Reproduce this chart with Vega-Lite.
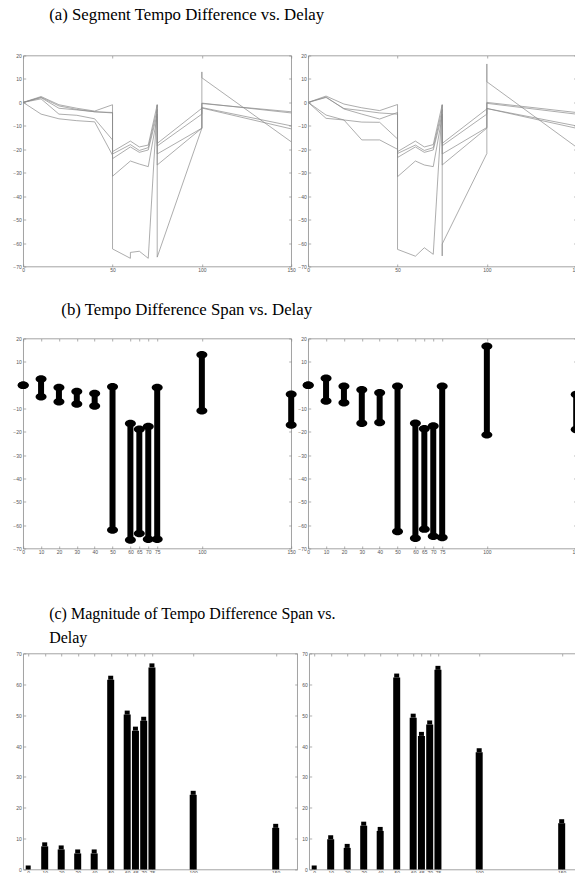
{
  "$schema": "https://vega.github.io/schema/vega-lite/v6.json",
  "padding": {"left": 12.2, "top": 6.5, "right": 0, "bottom": 0},
  "spacing": 50,
  "config": {
    "view": {"stroke": "#8c8c8c", "strokeWidth": 0.8},
    "axis": {"domain": false, "grid": false, "tickSize": -2.5, "tickColor": "#8c8c8c", "tickWidth": 0.7, "labelFont": "Liberation Sans", "labelFontSize": 5, "labelColor": "#555555", "labelOverlap": false, "labelFlush": false, "labelBound": false},
    "axisX": {"labelPadding": 3.5},
    "axisY": {"labelPadding": 4.5},
    "title": {"font": "Liberation Serif", "fontSize": 16.8, "fontWeight": "normal", "color": "#000000", "frame": "group"}
  },
  "datasets": {
    "aL": [
      {"s":1,"i":0,"x":0,"y":0},{"s":1,"i":1,"x":10,"y":2.5},{"s":1,"i":2,"x":20,"y":-1},{"s":1,"i":3,"x":30,"y":-2.5},{"s":1,"i":4,"x":40,"y":-3.7},{"s":1,"i":5,"x":50,"y":-1},{"s":1,"i":6,"x":50,"y":-21},{"s":1,"i":7,"x":60,"y":-16.5},{"s":1,"i":9,"x":65,"y":-19},{"s":1,"i":10,"x":70,"y":-18.2},{"s":1,"i":11,"x":75,"y":-1},{"s":1,"i":12,"x":75,"y":-17.5},{"s":1,"i":14,"x":100,"y":-2.5},{"s":1,"i":16,"x":100,"y":-0.5},{"s":1,"i":17,"x":150,"y":-4},
      {"s":2,"i":0,"x":0,"y":0},{"s":2,"i":1,"x":10,"y":2},{"s":2,"i":2,"x":20,"y":-2.5},{"s":2,"i":3,"x":30,"y":-3.2},{"s":2,"i":4,"x":40,"y":-4},{"s":2,"i":5,"x":50,"y":-4.3},{"s":2,"i":6,"x":50,"y":-22},{"s":2,"i":7,"x":60,"y":-18},{"s":2,"i":9,"x":65,"y":-20.5},{"s":2,"i":10,"x":70,"y":-19.3},{"s":2,"i":11,"x":75,"y":-3},{"s":2,"i":12,"x":75,"y":-18.6},{"s":2,"i":14,"x":100,"y":-5},{"s":2,"i":16,"x":100,"y":-0.3},{"s":2,"i":17,"x":150,"y":-4.5},
      {"s":3,"i":0,"x":0,"y":0},{"s":3,"i":1,"x":10,"y":1.5},{"s":3,"i":2,"x":20,"y":-5},{"s":3,"i":3,"x":30,"y":-5.5},{"s":3,"i":4,"x":40,"y":-7},{"s":3,"i":5,"x":50,"y":-16},{"s":3,"i":6,"x":50,"y":-24},{"s":3,"i":7,"x":60,"y":-19},{"s":3,"i":9,"x":65,"y":-21.3},{"s":3,"i":10,"x":70,"y":-20.3},{"s":3,"i":11,"x":75,"y":-5},{"s":3,"i":12,"x":75,"y":-22},{"s":3,"i":14,"x":100,"y":-11},{"s":3,"i":16,"x":100,"y":-2.2},{"s":3,"i":17,"x":150,"y":-10},
      {"s":4,"i":0,"x":0,"y":0},{"s":4,"i":1,"x":10,"y":-5},{"s":4,"i":2,"x":20,"y":-7},{"s":4,"i":3,"x":30,"y":-7.8},{"s":4,"i":4,"x":40,"y":-8.3},{"s":4,"i":5,"x":50,"y":-22.5},{"s":4,"i":6,"x":50,"y":-31.5},{"s":4,"i":7,"x":60,"y":-25},{"s":4,"i":9,"x":65,"y":-26.3},{"s":4,"i":10,"x":70,"y":-27.4},{"s":4,"i":11,"x":75,"y":-6},{"s":4,"i":12,"x":75,"y":-26.7},{"s":4,"i":14,"x":100,"y":-11},{"s":4,"i":16,"x":100,"y":-2.4},{"s":4,"i":17,"x":150,"y":-11.3},
      {"s":5,"i":0,"x":0,"y":0},{"s":5,"i":1,"x":10,"y":2.2},{"s":5,"i":2,"x":20,"y":-1.5},{"s":5,"i":3,"x":30,"y":-3},{"s":5,"i":4,"x":40,"y":-4},{"s":5,"i":5,"x":50,"y":-4.5},{"s":5,"i":6,"x":50,"y":-62.5},{"s":5,"i":7,"x":60,"y":-66.5},{"s":5,"i":8,"x":60,"y":-64},{"s":5,"i":9,"x":65,"y":-63.5},{"s":5,"i":10,"x":70,"y":-66.5},{"s":5,"i":11,"x":75,"y":-1},{"s":5,"i":12,"x":75,"y":-66},{"s":5,"i":14,"x":100,"y":-11},{"s":5,"i":15,"x":100,"y":13},{"s":5,"i":16,"x":100,"y":10.5},{"s":5,"i":17,"x":150,"y":-16.8}
    ],
    "aR": [
      {"s":1,"i":0,"x":0,"y":0},{"s":1,"i":1,"x":10,"y":2.7},{"s":1,"i":2,"x":20,"y":-0.7},{"s":1,"i":3,"x":30,"y":-2.3},{"s":1,"i":4,"x":40,"y":-3.5},{"s":1,"i":5,"x":50,"y":-0.9},{"s":1,"i":6,"x":50,"y":-21},{"s":1,"i":7,"x":60,"y":-16.5},{"s":1,"i":9,"x":65,"y":-19},{"s":1,"i":10,"x":70,"y":-18},{"s":1,"i":11,"x":75,"y":-1},{"s":1,"i":12,"x":75,"y":-17.5},{"s":1,"i":14,"x":100,"y":-2.8},{"s":1,"i":16,"x":100,"y":0},{"s":1,"i":17,"x":150,"y":-4.3},
      {"s":2,"i":0,"x":0,"y":0},{"s":2,"i":1,"x":10,"y":2.1},{"s":2,"i":2,"x":20,"y":-2.6},{"s":2,"i":3,"x":30,"y":-3.5},{"s":2,"i":4,"x":40,"y":-4.5},{"s":2,"i":5,"x":50,"y":-5},{"s":2,"i":6,"x":50,"y":-21.8},{"s":2,"i":7,"x":60,"y":-18.2},{"s":2,"i":9,"x":65,"y":-20.5},{"s":2,"i":10,"x":70,"y":-19.3},{"s":2,"i":11,"x":75,"y":-3},{"s":2,"i":12,"x":75,"y":-18.5},{"s":2,"i":14,"x":100,"y":-5},{"s":2,"i":16,"x":100,"y":-0.4},{"s":2,"i":17,"x":150,"y":-5},
      {"s":3,"i":0,"x":0,"y":0},{"s":3,"i":1,"x":10,"y":2.3},{"s":3,"i":2,"x":20,"y":-2.8},{"s":3,"i":3,"x":30,"y":-5},{"s":3,"i":4,"x":40,"y":-7.1},{"s":3,"i":5,"x":50,"y":-4.3},{"s":3,"i":6,"x":50,"y":-23.5},{"s":3,"i":7,"x":60,"y":-19},{"s":3,"i":9,"x":65,"y":-21.3},{"s":3,"i":10,"x":70,"y":-20.3},{"s":3,"i":11,"x":75,"y":-5},{"s":3,"i":12,"x":75,"y":-22},{"s":3,"i":14,"x":100,"y":-10.7},{"s":3,"i":16,"x":100,"y":-2.6},{"s":3,"i":17,"x":150,"y":-10},
      {"s":4,"i":0,"x":0,"y":0},{"s":4,"i":1,"x":10,"y":-5.4},{"s":4,"i":2,"x":20,"y":-7.5},{"s":4,"i":3,"x":30,"y":-8.4},{"s":4,"i":4,"x":40,"y":-8.5},{"s":4,"i":5,"x":50,"y":-15.6},{"s":4,"i":6,"x":50,"y":-31.7},{"s":4,"i":7,"x":60,"y":-25},{"s":4,"i":9,"x":65,"y":-26.7},{"s":4,"i":10,"x":70,"y":-27.4},{"s":4,"i":11,"x":75,"y":-6},{"s":4,"i":12,"x":75,"y":-26.7},{"s":4,"i":14,"x":100,"y":-11},{"s":4,"i":16,"x":100,"y":-2.6},{"s":4,"i":17,"x":150,"y":-11},
      {"s":5,"i":0,"x":0,"y":0},{"s":5,"i":1,"x":10,"y":-6.8},{"s":5,"i":2,"x":20,"y":-7.5},{"s":5,"i":3,"x":30,"y":-16},{"s":5,"i":4,"x":40,"y":-16},{"s":5,"i":5,"x":50,"y":-20},{"s":5,"i":6,"x":50,"y":-62.7},{"s":5,"i":7,"x":60,"y":-65.6},{"s":5,"i":9,"x":65,"y":-62},{"s":5,"i":10,"x":70,"y":-64.8},{"s":5,"i":11,"x":75,"y":-1},{"s":5,"i":12,"x":75,"y":-65.5},{"s":5,"i":13,"x":75,"y":-60.4},{"s":5,"i":14,"x":100,"y":-21.8},{"s":5,"i":15,"x":100,"y":16.4},{"s":5,"i":16,"x":100,"y":8.8},{"s":5,"i":17,"x":150,"y":-19}
    ],
    "bL": [
      {"x":0,"lo":0,"hi":0},{"x":10,"lo":-5,"hi":2.6},{"x":20,"lo":-7.1,"hi":-1},{"x":30,"lo":-8.1,"hi":-2.7},{"x":40,"lo":-8.9,"hi":-3.6},{"x":50,"lo":-62.1,"hi":-0.7},{"x":60,"lo":-66.4,"hi":-16.4},{"x":65,"lo":-63.6,"hi":-18.9},{"x":70,"lo":-66,"hi":-17.7},{"x":75,"lo":-66,"hi":-1},{"x":100,"lo":-11,"hi":13},{"x":150,"lo":-17.1,"hi":-3.9}
    ],
    "bR": [
      {"x":0,"lo":0,"hi":0},{"x":10,"lo":-6.8,"hi":3},{"x":20,"lo":-7.5,"hi":-0.5},{"x":30,"lo":-16.3,"hi":-2},{"x":40,"lo":-16,"hi":-3.2},{"x":50,"lo":-62.7,"hi":-0.5},{"x":60,"lo":-65.6,"hi":-16.3},{"x":65,"lo":-61.7,"hi":-18.7},{"x":70,"lo":-64.8,"hi":-17.5},{"x":75,"lo":-65.3,"hi":-0.5},{"x":100,"lo":-21.3,"hi":16.7},{"x":150,"lo":-19,"hi":-4}
    ],
    "cL": [
      {"x":0,"v":0},{"x":10,"v":7.5},{"x":20,"v":6.5},{"x":30,"v":5.2},{"x":40,"v":5.2},{"x":50,"v":61.5},{"x":60,"v":50.2},{"x":65,"v":45},{"x":70,"v":48.2},{"x":75,"v":65.5},{"x":100,"v":24.2},{"x":150,"v":13.5}
    ],
    "cR": [
      {"x":0,"v":0},{"x":10,"v":9.8},{"x":20,"v":7},{"x":30,"v":14.2},{"x":40,"v":12.5},{"x":50,"v":62.2},{"x":60,"v":49.2},{"x":65,"v":43.3},{"x":70,"v":47},{"x":75,"v":64.7},{"x":100,"v":38},{"x":150,"v":15}
    ]
  },
  "vconcat": [
    {
      "spacing": 28,
      "vconcat": [
        {
          "title": {"text": "(a) Segment Tempo Difference vs. Delay", "anchor": "start", "align": "center", "dx": 163.5, "offset": 29.5},
          "bounds": "flush",
          "spacing": 17,
          "hconcat": [
            {
              "width": 268, "height": 211,
              "data": {"name": "aL"},
              "layer": [
                {"mark": {"type": "line", "color": "#8a8a8a", "strokeWidth": 0.7},
                 "encoding": {
                   "x": {"field": "x", "type": "quantitative", "title": null, "scale": {"domain": [0, 150], "nice": false}, "axis": {"orient": "bottom", "values": [0, 50, 100, 150]}},
                   "y": {"field": "y", "type": "quantitative", "title": null, "scale": {"domain": [-70, 20], "nice": false}, "axis": {"orient": "left", "values": [-70, -60, -50, -40, -30, -20, -10, 0, 10, 20]}},
                   "detail": {"field": "s", "type": "nominal"},
                   "order": {"field": "i", "type": "quantitative"}
                 }},
                {"mark": {"type": "point", "opacity": 0},
                 "encoding": {
                   "x": {"field": "x", "type": "quantitative", "title": null, "axis": {"orient": "top", "labels": false, "values": [0, 50, 100, 150]}},
                   "y": {"field": "y", "type": "quantitative", "title": null, "axis": {"orient": "right", "labels": false, "values": [-70, -60, -50, -40, -30, -20, -10, 0, 10, 20]}}
                 }}
              ],
              "resolve": {"axis": {"x": "independent", "y": "independent"}}
            },
            {
              "width": 268, "height": 211,
              "data": {"name": "aR"},
              "layer": [
                {"mark": {"type": "line", "color": "#8a8a8a", "strokeWidth": 0.7},
                 "encoding": {
                   "x": {"field": "x", "type": "quantitative", "title": null, "scale": {"domain": [0, 150], "nice": false}, "axis": {"orient": "bottom", "values": [0, 50, 100, 150]}},
                   "y": {"field": "y", "type": "quantitative", "title": null, "scale": {"domain": [-70, 20], "nice": false}, "axis": {"orient": "left", "values": [-70, -60, -50, -40, -30, -20, -10, 0, 10, 20]}},
                   "detail": {"field": "s", "type": "nominal"},
                   "order": {"field": "i", "type": "quantitative"}
                 }},
                {"mark": {"type": "point", "opacity": 0},
                 "encoding": {
                   "x": {"field": "x", "type": "quantitative", "title": null, "axis": {"orient": "top", "labels": false, "values": [0, 50, 100, 150]}},
                   "y": {"field": "y", "type": "quantitative", "title": null, "axis": {"orient": "right", "labels": false, "values": [-70, -60, -50, -40, -30, -20, -10, 0, 10, 20]}}
                 }}
              ],
              "resolve": {"axis": {"x": "independent", "y": "independent"}}
            }
          ]
        },
        {
          "title": {"text": "(b) Tempo Difference Span vs. Delay", "anchor": "start", "align": "center", "dx": 163.5, "offset": 17.3},
          "bounds": "flush",
          "spacing": 17,
          "hconcat": [
            {
              "width": 268, "height": 210,
              "data": {"name": "bL"},
              "layer": [
                {"mark": {"type": "rule", "color": "#000000", "strokeWidth": 6},
                 "encoding": {
                   "x": {"field": "x", "type": "quantitative", "title": null, "scale": {"domain": [0, 150], "nice": false}, "axis": {"orient": "bottom", "values": [0, 10, 20, 30, 40, 50, 60, 65, 70, 75, 100, 150]}},
                   "y": {"field": "lo", "type": "quantitative", "title": null, "scale": {"domain": [-70, 20], "nice": false}, "axis": {"orient": "left", "values": [-70, -60, -50, -40, -30, -20, -10, 10, 20]}},
                   "y2": {"field": "hi"}
                 }},
                {"mark": {"type": "point", "shape": "M-1,0A1,0.68,0,1,1,1,0A1,0.68,0,1,1,-1,0Z", "filled": true, "color": "#000000", "opacity": 1, "size": 121},
                 "encoding": {
                   "x": {"field": "x", "type": "quantitative", "axis": null},
                   "y": {"field": "lo", "type": "quantitative", "axis": null}
                 }},
                {"mark": {"type": "point", "shape": "M-1,0A1,0.68,0,1,1,1,0A1,0.68,0,1,1,-1,0Z", "filled": true, "color": "#000000", "opacity": 1, "size": 121},
                 "encoding": {
                   "x": {"field": "x", "type": "quantitative", "axis": null},
                   "y": {"field": "hi", "type": "quantitative", "axis": null}
                 }},
                {"mark": {"type": "point", "opacity": 0},
                 "encoding": {
                   "x": {"field": "x", "type": "quantitative", "title": null, "axis": {"orient": "top", "labels": false, "values": [0, 10, 20, 30, 40, 50, 60, 65, 70, 75, 100, 150]}},
                   "y": {"field": "lo", "type": "quantitative", "title": null, "axis": {"orient": "right", "labels": false, "values": [-70, -60, -50, -40, -30, -20, -10, 10, 20]}}
                 }}
              ],
              "resolve": {"axis": {"x": "independent", "y": "independent"}}
            },
            {
              "width": 268, "height": 210,
              "data": {"name": "bR"},
              "layer": [
                {"mark": {"type": "rule", "color": "#000000", "strokeWidth": 6},
                 "encoding": {
                   "x": {"field": "x", "type": "quantitative", "title": null, "scale": {"domain": [0, 150], "nice": false}, "axis": {"orient": "bottom", "values": [0, 10, 20, 30, 40, 50, 60, 65, 70, 75, 100, 150]}},
                   "y": {"field": "lo", "type": "quantitative", "title": null, "scale": {"domain": [-70, 20], "nice": false}, "axis": {"orient": "left", "values": [-70, -60, -50, -40, -30, -20, -10, 10, 20]}},
                   "y2": {"field": "hi"}
                 }},
                {"mark": {"type": "point", "shape": "M-1,0A1,0.68,0,1,1,1,0A1,0.68,0,1,1,-1,0Z", "filled": true, "color": "#000000", "opacity": 1, "size": 121},
                 "encoding": {
                   "x": {"field": "x", "type": "quantitative", "axis": null},
                   "y": {"field": "lo", "type": "quantitative", "axis": null}
                 }},
                {"mark": {"type": "point", "shape": "M-1,0A1,0.68,0,1,1,1,0A1,0.68,0,1,1,-1,0Z", "filled": true, "color": "#000000", "opacity": 1, "size": 121},
                 "encoding": {
                   "x": {"field": "x", "type": "quantitative", "axis": null},
                   "y": {"field": "hi", "type": "quantitative", "axis": null}
                 }},
                {"mark": {"type": "point", "opacity": 0},
                 "encoding": {
                   "x": {"field": "x", "type": "quantitative", "title": null, "axis": {"orient": "top", "labels": false, "values": [0, 10, 20, 30, 40, 50, 60, 65, 70, 75, 100, 150]}},
                   "y": {"field": "lo", "type": "quantitative", "title": null, "axis": {"orient": "right", "labels": false, "values": [-70, -60, -50, -40, -30, -20, -10, 10, 20]}}
                 }}
              ],
              "resolve": {"axis": {"x": "independent", "y": "independent"}}
            }
          ]
        }
      ]
    },
    {
      "title": {"text": ["(c) Magnitude of Tempo Difference Span vs.", "Delay"], "anchor": "start", "align": "left", "dx": 26, "offset": 5.5, "lineHeight": 24, "fontSize": 16},
      "bounds": "flush",
      "spacing": 12,
      "hconcat": [
        {
          "width": 274, "height": 216,
          "data": {"name": "cL"},
          "layer": [
            {"mark": {"type": "bar", "color": "#000000", "size": 7},
             "encoding": {
               "x": {"field": "x", "type": "quantitative", "title": null, "scale": {"domain": [0, 160], "nice": false}, "axis": {"orient": "bottom", "values": [0, 10, 20, 30, 40, 50, 60, 65, 70, 75, 100, 150]}},
               "y": {"field": "v", "type": "quantitative", "title": null, "scale": {"domain": [0, 70], "nice": false}, "axis": {"orient": "left", "values": [0, 10, 20, 30, 40, 50, 60, 70]}}
             }},
            {"mark": {"type": "tick", "orient": "horizontal", "color": "#000000", "size": 5, "thickness": 4, "yOffset": -2, "opacity": 1},
             "encoding": {
               "x": {"field": "x", "type": "quantitative", "axis": null},
               "y": {"field": "v", "type": "quantitative", "axis": null}
             }},
            {"mark": {"type": "point", "opacity": 0},
             "encoding": {
               "x": {"field": "x", "type": "quantitative", "title": null, "axis": {"orient": "top", "labels": false, "values": [0, 10, 20, 30, 40, 50, 60, 65, 70, 75, 100, 150]}},
               "y": {"field": "v", "type": "quantitative", "title": null, "axis": {"orient": "right", "labels": false, "values": [0, 10, 20, 30, 40, 50, 60, 70]}}
             }}
          ],
          "resolve": {"axis": {"x": "independent", "y": "independent"}}
        },
        {
          "width": 274, "height": 216,
          "data": {"name": "cR"},
          "layer": [
            {"mark": {"type": "bar", "color": "#000000", "size": 7},
             "encoding": {
               "x": {"field": "x", "type": "quantitative", "title": null, "scale": {"domain": [0, 160], "nice": false}, "axis": {"orient": "bottom", "values": [0, 10, 20, 30, 40, 50, 60, 65, 70, 75, 100, 150]}},
               "y": {"field": "v", "type": "quantitative", "title": null, "scale": {"domain": [0, 70], "nice": false}, "axis": {"orient": "left", "values": [0, 10, 20, 30, 40, 50, 60, 70]}}
             }},
            {"mark": {"type": "tick", "orient": "horizontal", "color": "#000000", "size": 5, "thickness": 4, "yOffset": -2, "opacity": 1},
             "encoding": {
               "x": {"field": "x", "type": "quantitative", "axis": null},
               "y": {"field": "v", "type": "quantitative", "axis": null}
             }},
            {"mark": {"type": "point", "opacity": 0},
             "encoding": {
               "x": {"field": "x", "type": "quantitative", "title": null, "axis": {"orient": "top", "labels": false, "values": [0, 10, 20, 30, 40, 50, 60, 65, 70, 75, 100, 150]}},
               "y": {"field": "v", "type": "quantitative", "title": null, "axis": {"orient": "right", "labels": false, "values": [0, 10, 20, 30, 40, 50, 60, 70]}}
             }}
          ],
          "resolve": {"axis": {"x": "independent", "y": "independent"}}
        }
      ]
    }
  ]
}
